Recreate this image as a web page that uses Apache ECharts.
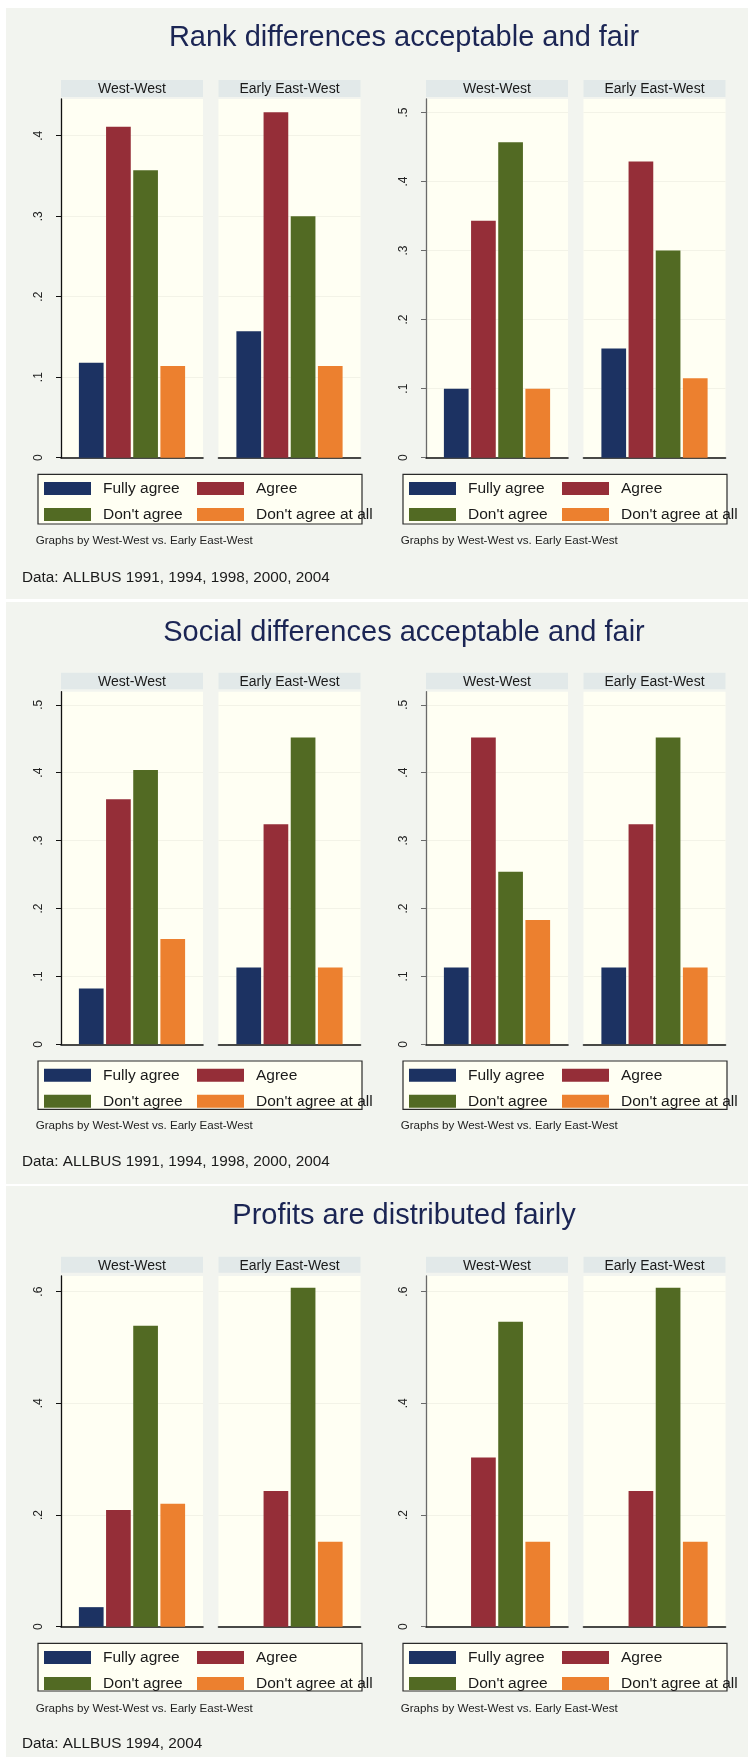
<!DOCTYPE html>
<html>
<head>
<meta charset="utf-8">
<script src="https://cdn.jsdelivr.net/npm/echarts@6/dist/echarts.min.js"></script>
<style>
  html, body { margin: 0; padding: 0; background: #ffffff; }
  #chart { width: 748px; height: 1757px; }
</style>
</head>
<body>
<div id="chart"></div>
<script>
// ---- data -------------------------------------------------------------
const categories = ['Fully agree', 'Agree', "Don't agree", "Don't agree at all"];
const facetNames = ['West-West', 'Early East-West'];
const sectionTitles = [
  'Rank differences acceptable and fair',
  'Social differences acceptable and fair',
  'Profits are distributed fairly'
];
const sourceNotes = [
  'Data: ALLBUS 1991, 1994, 1998, 2000, 2004',
  'Data: ALLBUS 1991, 1994, 1998, 2000, 2004',
  'Data: ALLBUS 1994, 2004'
];
const byNote = 'Graphs by West-West vs. Early East-West';

// shares per answer category: Fully agree, Agree, Don't agree, Don't agree at all
const rankLeftWestWest        = [0.118, 0.411, 0.357, 0.114];
const rankLeftEarlyEastWest   = [0.157, 0.429, 0.300, 0.114];
const rankRightWestWest       = [0.100, 0.343, 0.457, 0.100];
const rankRightEarlyEastWest  = [0.158, 0.429, 0.300, 0.115];

const socialLeftWestWest       = [0.082, 0.361, 0.404, 0.155];
const socialLeftEarlyEastWest  = [0.113, 0.324, 0.452, 0.113];
const socialRightWestWest      = [0.113, 0.452, 0.254, 0.183];
const socialRightEarlyEastWest = [0.113, 0.324, 0.452, 0.113];

const profitsLeftWestWest       = [0.035, 0.209, 0.539, 0.220];
const profitsLeftEarlyEastWest  = [0, 0.243, 0.607, 0.152];
const profitsRightWestWest      = [0, 0.303, 0.546, 0.152];
const profitsRightEarlyEastWest = [0, 0.243, 0.607, 0.152];

// y-axis tick labels
const rankLeftTicks   = [0, 0.1, 0.2, 0.3, 0.4];
const rankRightTicks  = [0, 0.1, 0.2, 0.3, 0.4, 0.5];
const socialTicks     = [0, 0.1, 0.2, 0.3, 0.4, 0.5];
const profitsTicks    = [0, 0.2, 0.4, 0.6];

// ---- layout & style ---------------------------------------------------
const FONT = "'Liberation Sans', Arial, sans-serif";
const NARROW = "'Liberation Sans Narrow', 'Arial Narrow', 'Liberation Sans', Arial, sans-serif";
const palette = ['#1c3262', '#952e38', '#526a23', '#ec802f'];
const sectionBg = '#f2f4ef';
const plotBg = '#fffff3';
const stripBg = '#e2e9e9';

const sections = [
  { top: 8, bottom: 599, titleY: 37.5, stripTop: 80, stripH: 17, plotTop: 99, plotBottom: 457.7,
    legendTop: 474.3, legendH: 49.7, noteY: 540.7, dataY: 577.3,
    panels: [
      { values: [rankLeftWestWest, rankLeftEarlyEastWest], ticks: rankLeftTicks, max: 0.4456 },
      { values: [rankRightWestWest, rankRightEarlyEastWest], ticks: rankRightTicks, max: 0.5195 }
    ] },
  { top: 602, bottom: 1184, titleY: 632.5, stripTop: 672.7, stripH: 16.6, plotTop: 691.7, plotBottom: 1044.3,
    legendTop: 1061, legendH: 48.3, noteY: 1126, dataY: 1161.7,
    panels: [
      { values: [socialLeftWestWest, socialLeftEarlyEastWest], ticks: socialTicks, max: 0.5193 },
      { values: [socialRightWestWest, socialRightEarlyEastWest], ticks: socialTicks, max: 0.5193 }
    ] },
  { top: 1186, bottom: 1757, titleY: 1215.5, stripTop: 1256.7, stripH: 16, plotTop: 1276, plotBottom: 1626.7,
    legendTop: 1643.3, legendH: 47.7, noteY: 1708.3, dataY: 1744,
    panels: [
      { values: [profitsLeftWestWest, profitsLeftEarlyEastWest], ticks: profitsTicks, max: 0.628 },
      { values: [profitsRightWestWest, profitsRightEarlyEastWest], ticks: profitsTicks, max: 0.628 }
    ] }
];
const panelOffsets = [0, 365];
const panelAxisColors = ['#111111', '#6a6a6a'];
const facetLefts = [61, 218.5];
const facetWidth = 142;

const tickLabel = v => (v === 0 ? '0' : String(+v.toFixed(2)).replace(/^0/, ''));

const grid = [], xAxis = [], yAxis = [], series = [], legend = [], graphic = [];

sections.forEach((sec, si) => {
  graphic.push({ type: 'rect', z: -10, silent: true,
    shape: { x: 6, y: sec.top, width: 742, height: sec.bottom - sec.top },
    style: { fill: sectionBg } });
  graphic.push({ type: 'text', x: 404, y: sec.titleY, silent: true,
    style: { text: sectionTitles[si], font: '29px ' + FONT, fill: '#1b2554',
      align: 'center', verticalAlign: 'middle', textAlign: 'center', textVerticalAlign: 'middle' } });
  graphic.push({ type: 'text', x: 22, y: sec.dataY, silent: true,
    style: { text: sourceNotes[si], font: '15.3px ' + FONT, fill: '#1a1a1a',
      align: 'left', verticalAlign: 'middle', textAlign: 'left', textVerticalAlign: 'middle' } });

  sec.panels.forEach((panel, pi) => {
    const ox = panelOffsets[pi];
    const axisColor = panelAxisColors[pi];
    const step = panel.ticks[1] - panel.ticks[0];

    facetNames.forEach((fname, fi) => {
      const gx = ox + facetLefts[fi];
      const gi = grid.length;
      grid.push({ left: gx, top: sec.plotTop, width: facetWidth, height: sec.plotBottom - sec.plotTop,
        show: true, backgroundColor: plotBg, borderWidth: 0 });

      graphic.push({ type: 'rect', silent: true,
        shape: { x: gx, y: sec.stripTop, width: facetWidth, height: sec.stripH },
        style: { fill: stripBg } });
      graphic.push({ type: 'text', x: gx + facetWidth / 2, y: sec.stripTop + sec.stripH / 2 + 1, silent: true,
        style: { text: fname, font: '14px ' + NARROW, fill: '#1a1a1a',
          align: 'center', verticalAlign: 'middle', textAlign: 'center', textVerticalAlign: 'middle' } });

      xAxis.push({ type: 'category', gridIndex: gi, data: [fname],
        axisLabel: { show: false }, axisTick: { show: false },
        axisLine: { show: true, lineStyle: { color: '#111111', width: 1.6 } },
        splitLine: { show: false } });

      const first = fi === 0;
      yAxis.push({ type: 'value', gridIndex: gi, min: 0, max: panel.max, interval: step,
        axisLine: { show: first, lineStyle: { color: axisColor, width: 1.3 } },
        axisTick: { show: first, length: 5, customValues: panel.ticks,
          lineStyle: { color: axisColor, width: 1 } },
        axisLabel: { show: first, customValues: panel.ticks, rotate: 90, margin: 16,
          formatter: tickLabel, fontFamily: FONT, fontSize: 12, color: '#222222' },
        splitLine: { show: true, lineStyle: { color: '#f3f3e7', width: 1 } } });

      categories.forEach((cat, ci) => {
        series.push({ type: 'bar', name: cat, xAxisIndex: gi, yAxisIndex: gi,
          data: [panel.values[fi][ci]], barWidth: 24.7, barGap: '10%',
          itemStyle: { color: palette[ci] }, silent: true });
      });
    });

    // legend frame, then two legend columns inside it
    graphic.push({ type: 'rect', z: 1, silent: true,
      shape: { x: ox + 38, y: sec.legendTop, width: 324, height: sec.legendH },
      style: { fill: plotBg, stroke: '#2a2a2a', lineWidth: 1.2 } });
    [[0, 2], [1, 3]].forEach((idxs, col) => {
      legend.push({ orient: 'vertical', left: ox + 44 + col * 153, top: sec.legendTop + 6.3,
        padding: 0, itemWidth: 47, itemHeight: 13, itemGap: 10, icon: 'rect',
        selectedMode: false, data: idxs.map(i => categories[i]),
        textStyle: { fontFamily: FONT, fontSize: 15.5, color: '#1a1a1a', lineHeight: 13,
          padding: [0, 0, 0, 7] } });
    });

    graphic.push({ type: 'text', x: ox + 35.7, y: sec.noteY, silent: true,
      style: { text: byNote, font: '11.6px ' + FONT, fill: '#222222',
        align: 'left', verticalAlign: 'middle', textAlign: 'left', textVerticalAlign: 'middle' } });
  });
});

const chart = echarts.init(document.getElementById('chart'), null, { renderer: 'canvas' });
chart.setOption({
  animation: false,
  backgroundColor: '#ffffff',
  grid, xAxis, yAxis, series, legend, graphic
});
</script>
</body>
</html>
